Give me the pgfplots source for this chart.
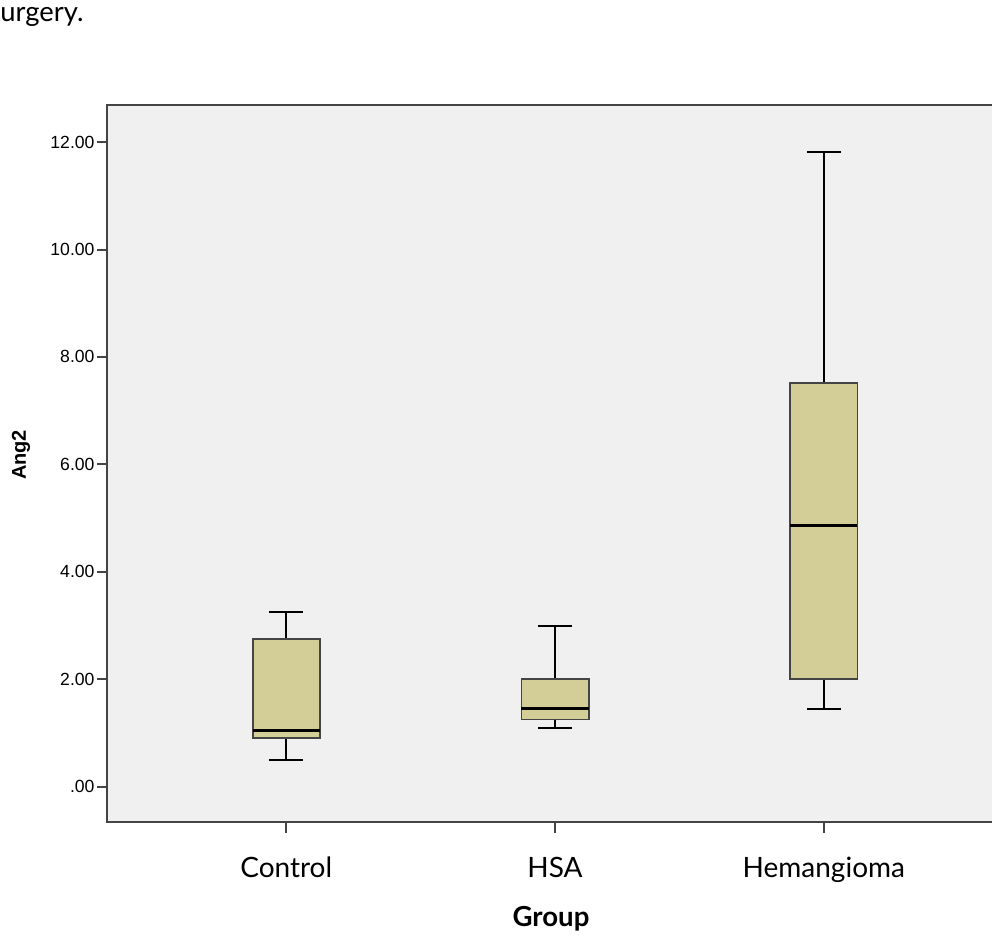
\documentclass[border=0pt]{standalone}
\usepackage{pgfplots}
\pgfplotsset{compat=1.18}
\usepgfplotslibrary{statistics}
\usepackage{fontspec}
\setmainfont{Lato}
\newfontfamily\arialfont{Liberation Sans}
\definecolor{boxfill}{RGB}{211,206,152}
\definecolor{bgfill}{RGB}{240,240,240}
\definecolor{framec}{RGB}{68,68,68}
\begin{document}
\begin{tikzpicture}
\useasboundingbox (0pt,0pt) rectangle (496pt,469.5pt);
\begin{axis}[
  at={(53.75pt,58.35pt)}, anchor=south west,
  scale only axis, width=447.55pt, height=358.65pt,
  xmin=0.335, xmax=3.665, ymin=-0.663, ymax=12.69,
  axis background/.style={fill=bgfill},
  axis line style={draw=framec, line width=1pt},
  xtick={1,2,3}, xticklabels={Control,HSA,Hemangioma},
  ytick={0,2,4,6,8,10,12}, yticklabels={.00,2.00,4.00,6.00,8.00,10.00,12.00},
  tick align=outside, major tick length=5.3pt, tick pos=left,
  tick style={draw=framec, line width=1pt},
  yticklabel style={font=\arialfont\fontsize{8.8}{10}\selectfont, inner sep=1pt},
  xticklabel style={font=\fontsize{14}{16}\selectfont, anchor=base, yshift=-22.2pt},
  /pgf/number format/assume math mode=true,
  boxplot/draw direction=y,
  boxplot/every box/.style={draw=framec, line width=0.9pt, fill=boxfill},
  boxplot/every median/.style={draw=black, line width=1.7pt},
  boxplot/every whisker/.style={draw=black, line width=1pt},
]
\addplot[black, boxplot prepared={draw position=1, lower whisker=0.50, lower quartile=0.91, median=1.05, upper quartile=2.75, upper whisker=3.25, box extend=0.25, whisker extend=0.125}] coordinates {};
\addplot[black, boxplot prepared={draw position=2, lower whisker=1.10, lower quartile=1.25, median=1.45, upper quartile=2.00, upper whisker=3.00, box extend=0.25, whisker extend=0.125}] coordinates {};
\addplot[black, boxplot prepared={draw position=3, lower whisker=1.45, lower quartile=2.00, median=4.86, upper quartile=7.51, upper whisker=11.81, box extend=0.25, whisker extend=0.125}] coordinates {};
\end{axis}
\node[font=\bfseries\fontsize{13.8}{15}\selectfont, anchor=base] at (275.5pt,6.5pt) {Group};
\node[font=\arialfont\bfseries\fontsize{10}{12}\selectfont, rotate=90] at (10.5pt,242pt) {Ang2};
\node[font=\fontsize{13.7}{16}\selectfont, anchor=base west, inner sep=0pt] at (0pt,458.5pt) {urgery.};
\end{tikzpicture}
\end{document}
